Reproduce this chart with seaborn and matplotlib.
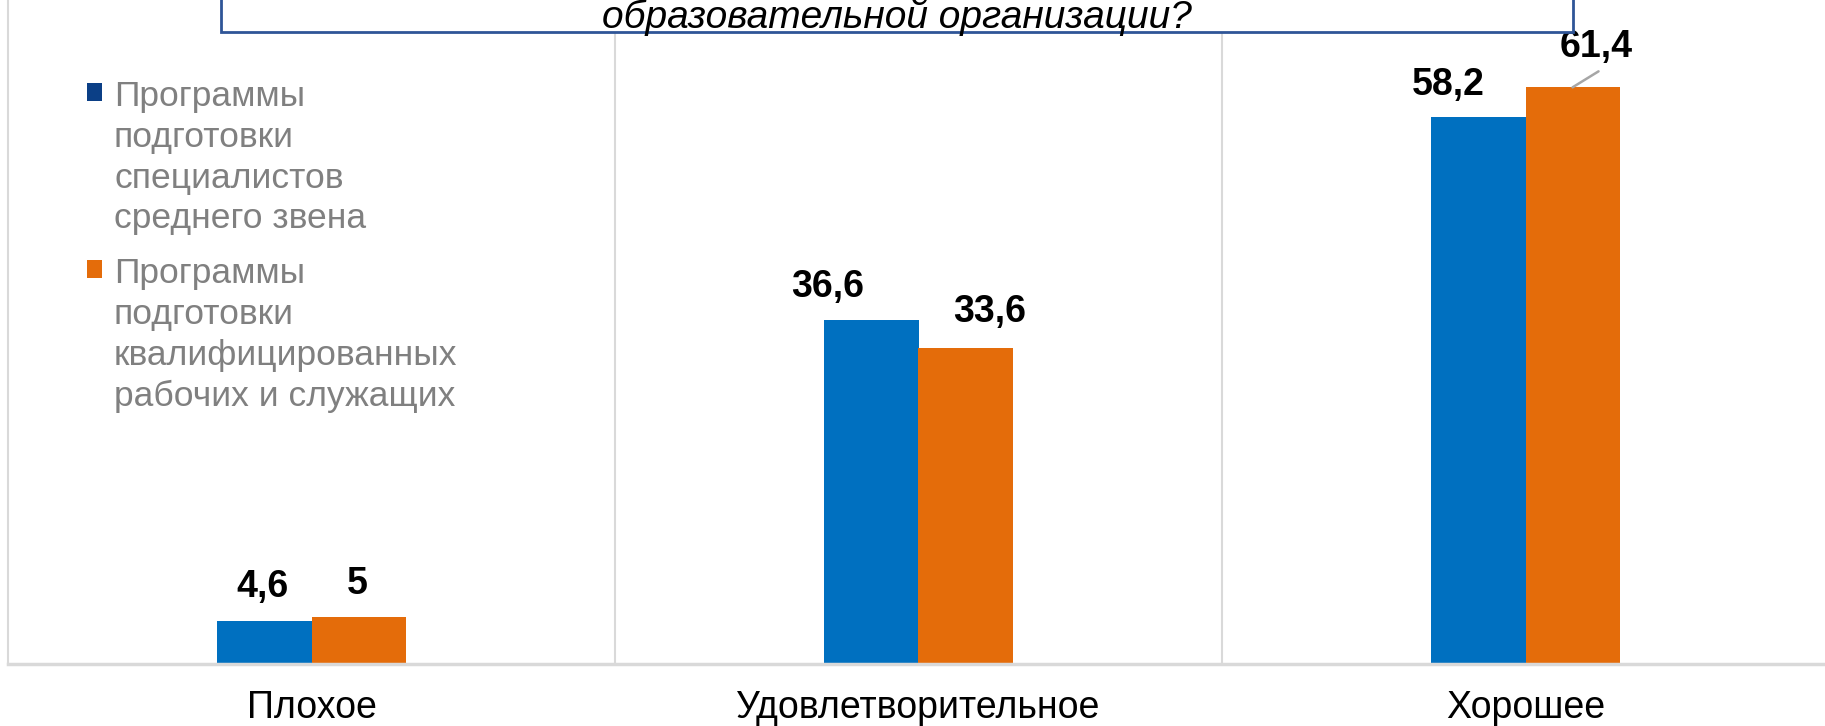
import pandas as pd
import seaborn as sns
import matplotlib.pyplot as plt
from matplotlib.patches import Rectangle
from matplotlib import font_manager

# Данные
categories = ["Плохое", "Удовлетворительное", "Хорошее"]
series = ["СПО специалисты", "СПО рабочие"]
legend_labels = ["Программы\nподготовки\nспециалистов\nсреднего звена",
                 "Программы\nподготовки\nквалифицированных\nрабочих и служащих"]
values_spec = [4.6, 36.6, 58.2]
values_work = [5.0, 33.6, 61.4]
labels_spec = ["4,6", "36,6", "58,2"]
labels_work = ["5", "33,6", "61,4"]
title_line = "образовательной организации?"

colors = ["#0070C0", "#E46C0A"]
legend_colors = ["#0B3F86", "#E46C0A"]

df = pd.DataFrame({
    "cat": categories * 2,
    "val": values_spec + values_work,
    "series": [series[0]] * 3 + [series[1]] * 3,
})

W, H = 1825, 726
fig = plt.figure(figsize=(W / 100, H / 100), dpi=100)
ax = fig.add_axes([8 / W, 62 / H, 1821 / W, 664 / H])

sns.barplot(data=df, x="cat", y="val", hue="series", palette=colors,
            width=0.31, saturation=1, legend=False, ax=ax)

ax.set_xlim(-0.5, len(categories) - 0.5)
ax.set_ylim(0, 70.7)
ax.set_xlabel("")
ax.set_ylabel("")
ax.set_yticks([])
for s in ["top", "right"]:
    ax.spines[s].set_visible(False)
ax.spines["left"].set_color("#D9D9D9")
ax.spines["left"].set_linewidth(1.5)
ax.spines["bottom"].set_color("#D9D9D9")
ax.spines["bottom"].set_linewidth(2.5)
for i in range(len(categories) - 1):
    ax.axvline(i + 0.5, color="#D9D9D9", lw=1.5, zorder=0)
ax.tick_params(axis="x", length=0, pad=19, labelsize=27, labelcolor="black")
for t in ax.get_xticklabels():
    t.set_fontfamily("Liberation Sans")

# Подписи значений (смещения в пикселях как на исходнике)
offsets = [[(-2, 34), (-44, 33), (-30, 32)],
           [(-1, 33), (24, 36), (24, 40)]]
all_labels = [labels_spec, labels_work]
for k, cont in enumerate(ax.containers):
    for j, bar in enumerate(cont):
        x = bar.get_x() + bar.get_width() / 2
        h = bar.get_height()
        dx, dy = offsets[k][j]
        ax.annotate(all_labels[k][j], xy=(x, h), xytext=(dx, dy),
                    textcoords="offset pixels", ha="center", va="center",
                    fontsize=27, fontweight="bold", family="Liberation Sans",
                    color="black")
        if k == 1 and j == 2:
            ax.annotate("", xy=(x, h), xytext=(26, 16), textcoords="offset pixels",
                        arrowprops=dict(arrowstyle="-", color="#A6A6A6", lw=1.8,
                                        shrinkA=0, shrinkB=0))

# Легенда
for i, lab in enumerate(legend_labels):
    fig.add_artist(Rectangle((87 / W, (H - 101 - i * 177) / H), 15 / W, 18 / H,
                             transform=fig.transFigure, facecolor=legend_colors[i],
                             edgecolor="none", zorder=5))
    fig.text(114 / W, (H - 80 - i * 177) / H, lab, ha="left", va="top",
             fontsize=25.5, color="#808080", family="Liberation Sans",
             linespacing=1.3, zorder=5)

# Рамка заголовка
names = {f.name for f in font_manager.fontManager.ttflist}
if "Liberation Sans Narrow" in names:
    tfam, tsize = "Liberation Sans Narrow", 33
else:
    tfam, tsize = "Liberation Sans", 28
fig.add_artist(Rectangle((221 / W, (H - 32) / H), (1573 - 221) / W, 60 / H,
                         transform=fig.transFigure, facecolor="white",
                         edgecolor="#2F5597", lw=2, zorder=6))
fig.text(897 / W, (H - 28) / H, title_line, ha="center", va="baseline",
         fontsize=tsize, style="italic", family=tfam, color="black", zorder=7)

plt.savefig("out.png", dpi=100)
